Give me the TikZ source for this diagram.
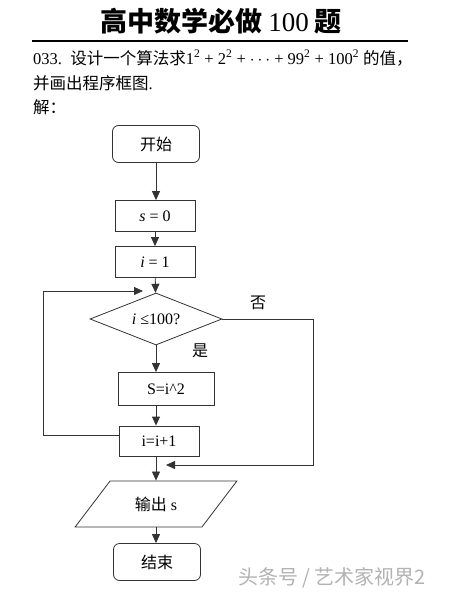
\documentclass[tikz,border=0pt]{standalone}
\usepackage{fontspec}
\setmainfont{Liberation Serif}
\newfontfamily\cjk{Noto Sans CJK SC}
\usepackage{tikz}
\usetikzlibrary{arrows.meta,shapes.geometric,positioning,calc}

\tikzset{
  flow/.style={draw=black!80, line width=0.8pt, font=\fontsize{16}{18}\selectfont},
  term/.style={flow, rounded corners=6pt, minimum width=87pt, minimum height=37pt},
  proc/.style={flow, minimum width=80pt, minimum height=31pt},
  cond/.style={flow, diamond, aspect=2.5, inner sep=0pt, minimum width=132pt, minimum height=52pt},
  io/.style={flow, trapezium, trapezium left angle=49, trapezium right angle=131,
    trapezium stretches=true, minimum width=162pt, minimum height=46pt},
  arr/.style={-{Triangle[length=9pt,width=8pt]}, draw=black!80, line width=0.8pt},
  line/.style={draw=black!80, line width=0.8pt}
}

\begin{document}
\begin{tikzpicture}[x=1pt,y=-1pt]
\useasboundingbox (0,0) rectangle (453,601);
% Heading
\node[font=\cjk\bfseries\fontsize{27}{30}\selectfont] (title) at (221,21) {高中数学必做 {\rmfamily\mdseries 100} 题};
\draw[line width=1.6pt] (32,41) -- (408,41);
\node[anchor=west, inner sep=0pt, font=\fontsize{16.5}{18}\selectfont] (q1) at (33,58)
  {033.\ \ {\cjk 设计一个算法求}1\textsuperscript{2} + 2\textsuperscript{2} + $\cdots$ + 99\textsuperscript{2} + 100\textsuperscript{2} {\cjk 的值，}};
\node[anchor=west, inner sep=0pt, font=\fontsize{16.5}{18}\selectfont] (q2) at (33,83) {{\cjk 并画出程序框图}.};
\node[anchor=west, inner sep=0pt, font=\cjk\fontsize{16.5}{18}\selectfont] (sol) at (33,107) {解：};
% Boxes
\node[term] (start) at (156,144) {\cjk 开始};
\node[proc] (s0) at (155,216) {\textit{s} = 0};
\node[proc] (i1) at (155,262) {\textit{i} = 1};
\node[cond] (test) at (156,319) {\textit{i} ≤100?};
\node[proc, minimum width=96pt, minimum height=33pt] (sq) at (166,389) {S=i\^{}2};
\node[proc, minimum height=30pt] (inc) at (159,441) {i=i+1};
\node[io] (out) at (156,504) {{\cjk 输出} s};
\node[term] (stop) at (157,562) {\cjk 结束};
% Branch labels
\node[font=\cjk\fontsize{16}{18}\selectfont] (no) at (258,303) {否};
\node[font=\cjk\fontsize{16}{18}\selectfont] (yes) at (200,351) {是};
% Free ends of the loops
\coordinate (lp) at (43,291);
\coordinate (back) at (143,291);
\coordinate (nr) at (313,319);
\coordinate (join) at (166,465);
% Main flow
\draw[arr] (start) -- (start |- s0.north);
\draw[arr] (s0) -- (i1);
\draw[arr] (i1) -- (test);
\draw[arr] (test.south) -- (test.south |- sq.north);
\draw[arr] (test.south |- sq.south) -- (test.south |- inc.north);
\draw[arr] (test.south |- inc.south) -- (test.south |- out.north);
\draw[arr] (test.south |- out.south) -- (test.south |- stop.north);
% Loop back and exit
\draw[arr] ([yshift=6pt]inc.west) -| (lp) -- (back);
\draw[arr] (test.east) -- (nr) |- (join);
% Watermark
\node[font=\cjk\fontsize{20}{22}\selectfont, text=black!30] (mark) at (332,578) {头条号 / 艺术家视界2};
\end{tikzpicture}
\end{document}
